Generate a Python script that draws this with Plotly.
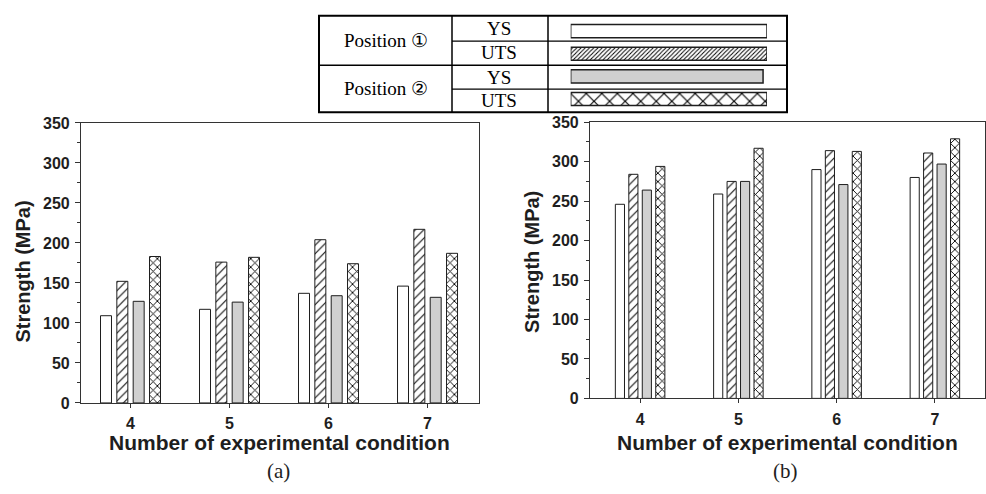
import plotly.graph_objects as go

# ---------------- data ----------------
conditions = [4, 5, 6, 7]
series_names = ["Position 1 YS", "Position 1 UTS", "Position 2 YS", "Position 2 UTS"]

a_ys_pos1 = [109, 117, 137, 146]
a_uts_pos1 = [152, 176, 204, 217]
a_ys_pos2 = [127, 126, 134, 132]
a_uts_pos2 = [183, 182, 174, 187]

b_ys_pos1 = [246, 259, 290, 280]
b_uts_pos1 = [284, 275, 314, 311]
b_ys_pos2 = [264, 275, 271, 297]
b_uts_pos2 = [294, 317, 313, 329]

y_ticks = [0, 50, 100, 150, 200, 250, 300, 350]
legend_groups = ["Position \u2460", "Position \u2461"]
legend_props = ["YS", "UTS", "YS", "UTS"]

# ---------------- styles ----------------
W, H = 986, 494
SANS = "Liberation Sans, Arial, sans-serif"
SERIF = "Liberation Serif, Times New Roman, serif"
INK = "#1e1e1e"
GRAY = "#d0d0d0"
styles = [
    dict(color="white", shape="", size=7, sol=0.2),
    dict(color="white", shape="/", size=6, sol=0.17),
    dict(color=GRAY, shape="", size=7, sol=0.2),
    dict(color="white", shape="x", size=6, sol=0.28),
]
legend_styles = [
    dict(color="white", shape="", size=8, sol=0.2),
    dict(color="white", shape="/", size=3, sol=0.33),
    dict(color=GRAY, shape="", size=8, sol=0.2),
    dict(color="white", shape="x", size=11, sol=0.2),
]


def px(x):
    return x / W


def py(y):
    return 1 - y / H


fig = go.Figure()


def add_group(values_list, xa, ya, slot, width):
    for i, (vals, st) in enumerate(zip(values_list, styles)):
        off = -2 * slot + i * slot + (slot - width) / 2
        fig.add_trace(go.Bar(
            x=conditions, y=vals, xaxis=xa, yaxis=ya,
            offset=off, width=width, name=series_names[i], showlegend=False,
            marker=dict(
                color=st["color"],
                line=dict(color=INK, width=1),
                pattern=dict(shape=st["shape"], size=st["size"], solidity=st["sol"],
                             fgcolor="black", bgcolor="white", fillmode="replace"),
            ),
        ))


add_group([a_ys_pos1, a_uts_pos1, a_ys_pos2, a_uts_pos2], "x", "y", 0.165, 0.111)
add_group([b_ys_pos1, b_uts_pos1, b_ys_pos2, b_uts_pos2], "x2", "y2", 0.137, 0.093)

# legend swatches (hidden axis 3), one row per series
for i, st in enumerate(legend_styles):
    fig.add_trace(go.Bar(
        x=[0.98 if st["color"] == GRAY else 1], y=[i], orientation="h",
        xaxis="x3", yaxis="y3", width=0.58, showlegend=False, hoverinfo="skip",
        name=series_names[i],
        marker=dict(
            color=st["color"],
            line=dict(color=INK, width=1.5),
            pattern=dict(shape=st["shape"], size=st["size"], solidity=st["sol"],
                         fgcolor="black", bgcolor="white", fillmode="replace"),
        ),
    ))

axis_common = dict(showline=True, linecolor="#333", linewidth=1.2, mirror=True,
                   ticks="outside", tickcolor="#333", showgrid=False, zeroline=False)


def yax(domain, anchor):
    return dict(domain=domain, anchor=anchor, range=[0, 350], tickvals=y_ticks,
                ticklen=5, ticklabelstandoff=2,
                tickfont=dict(family=SANS, size=16, color=INK, weight="bold"),
                minor=dict(dtick=25, ticks="outside", ticklen=3, tickcolor="#333"),
                **axis_common)


def xax(domain, anchor, rng):
    return dict(domain=domain, anchor=anchor, range=rng, tickvals=conditions,
                ticklen=4, ticklabelstandoff=2,
                tickfont=dict(family=SANS, size=16, color=INK, weight="bold"),
                **axis_common)


fig.update_layout(
    width=W, height=H,
    margin=dict(l=0, r=0, t=0, b=0),
    paper_bgcolor="white", plot_bgcolor="white",
    barmode="overlay",
    xaxis=xax([px(81), px(479)], "y", [3.5, 7.52]),
    yaxis=yax([py(409), py(119)], "x"),
    xaxis2=xax([px(590), px(985)], "y2", [3.49, 7.51]),
    yaxis2=yax([py(404.3), py(118.3)], "x2"),
    xaxis3=dict(domain=[px(570.7), px(767)], anchor="y3", range=[0, 1], visible=False),
    yaxis3=dict(domain=[py(108), py(8)], anchor="x3", range=[3.59, -0.684], visible=False),
)

# axis titles & captions
title_font = dict(family=SANS, size=21, color=INK, weight="bold")
ytitle_font = dict(family=SANS, size=20, color=INK, weight="bold")
ann = []
for cx in (279, 787):
    ann.append(dict(x=px(cx), y=py(450), text="Number of experimental condition",
                    font=title_font))
ann.append(dict(x=px(23), y=py(273), text="Strength (MPa)", textangle=-90, font=ytitle_font))
ann.append(dict(x=px(532), y=py(263), text="Strength (MPa)", textangle=-90, font=ytitle_font))
ann.append(dict(x=px(278), y=py(479), text="(a)", font=dict(family=SERIF, size=21, color=INK)))
ann.append(dict(x=px(785), y=py(479), text="(b)", font=dict(family=SERIF, size=21, color=INK)))

# legend table texts
lfont = dict(family=SERIF, size=19, color="black")
ann.append(dict(x=px(386), y=py(34), text=legend_groups[0], font=lfont))
ann.append(dict(x=px(386), y=py(83), text=legend_groups[1], font=lfont))
for yc, t in zip([21, 46.5, 71.5, 96], legend_props):
    ann.append(dict(x=px(499), y=py(yc), text=t, font=lfont))

for a in ann:
    a.update(xref="paper", yref="paper", showarrow=False, xanchor="center", yanchor="middle")
fig.update_layout(annotations=ann)

# legend table lines
shapes = []
shapes.append(dict(type="rect", x0=px(319), x1=px(787), y0=py(108), y1=py(8),
                   line=dict(color="black", width=2)))
for xv in (452, 548):
    shapes.append(dict(type="line", x0=px(xv), x1=px(xv), y0=py(108), y1=py(8),
                       line=dict(color="black", width=1.5)))
shapes.append(dict(type="line", x0=px(319), x1=px(787), y0=py(59.3), y1=py(59.3),
                   line=dict(color="black", width=1.5)))
for yv in (34.3, 84):
    shapes.append(dict(type="line", x0=px(452), x1=px(787), y0=py(yv), y1=py(yv),
                       line=dict(color="black", width=1.2)))
for s in shapes:
    s.update(xref="paper", yref="paper", layer="above")
fig.update_layout(shapes=shapes)

fig.write_html("out.html")
